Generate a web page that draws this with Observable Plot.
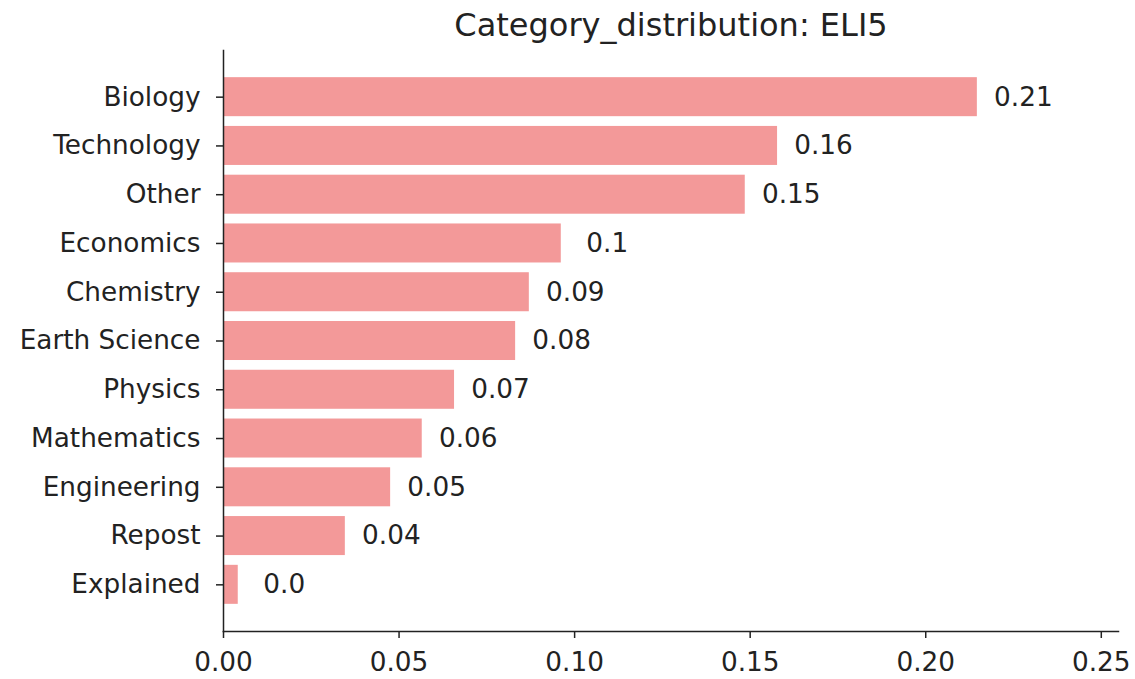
<!DOCTYPE html>
<html>
<head>
<meta charset="utf-8">
<script src="https://cdn.jsdelivr.net/npm/d3@7"></script>
<script src="https://cdn.jsdelivr.net/npm/@observablehq/plot@0.6"></script>
<style>
  html, body { margin: 0; padding: 0; background: #fff; }
  svg { display: block; }
</style>
</head>
<body>
<div id="chart"></div>
<script>
const categories = ["Biology", "Technology", "Other", "Economics", "Chemistry", "Earth Science", "Physics", "Mathematics", "Engineering", "Repost", "Explained"];
const values = [0.2147, 0.1578, 0.1486, 0.0962, 0.0871, 0.0832, 0.0658, 0.0566, 0.0476, 0.0347, 0.0042];
const valueLabels = ["0.21", "0.16", "0.15", "0.1", "0.09", "0.08", "0.07", "0.06", "0.05", "0.04", "0.0"];
const xTicks = [0, 0.05, 0.10, 0.15, 0.20, 0.25];
const title = "Category_distribution: ELI5";

const data = categories.map((c, i) => ({category: c, value: values[i], label: valueLabels[i]}));

const ink = "#222";
const chart = Plot.plot({
  width: 1135,
  height: 679,
  marginLeft: 223,
  marginRight: 17,
  marginTop: 50,
  marginBottom: 48,
  style: {fontFamily: "DejaVu Sans", fontSize: "26px", color: ink, background: "#fff"},
  x: {domain: [0, 0.2549], ticks: xTicks, tickFormat: d3.format(".2f"), label: null},
  y: {domain: categories, paddingInner: 0.2, paddingOuter: 0.557, round: false, label: null},
  marks: [
    Plot.barX(data, {x: "value", y: "category", fill: "#F39999"}),
    Plot.text(data, {x: "value", y: "category", text: "label", dx: 46, textAnchor: "middle", fill: ink, fontSize: 26.3}),
    Plot.axisX({ticks: xTicks, tickFormat: d3.format(".2f"), tickSize: 7, tickPadding: 14, stroke: ink, strokeWidth: 1.5, fill: ink, fontSize: 26.3, label: null}),
    Plot.axisY({tickSize: 7, tickPadding: 16, stroke: ink, strokeWidth: 1.5, fill: ink, fontSize: 26.3, label: null}),
    Plot.frame({anchor: "left", stroke: ink, strokeWidth: 1.5}),
    Plot.frame({anchor: "bottom", stroke: ink, strokeWidth: 1.5}),
    Plot.text([title], {frameAnchor: "top", lineAnchor: "bottom", dy: -15, text: d => d, fontSize: 32, fill: ink})
  ]
});
document.getElementById("chart").appendChild(chart);
</script>
</body>
</html>
